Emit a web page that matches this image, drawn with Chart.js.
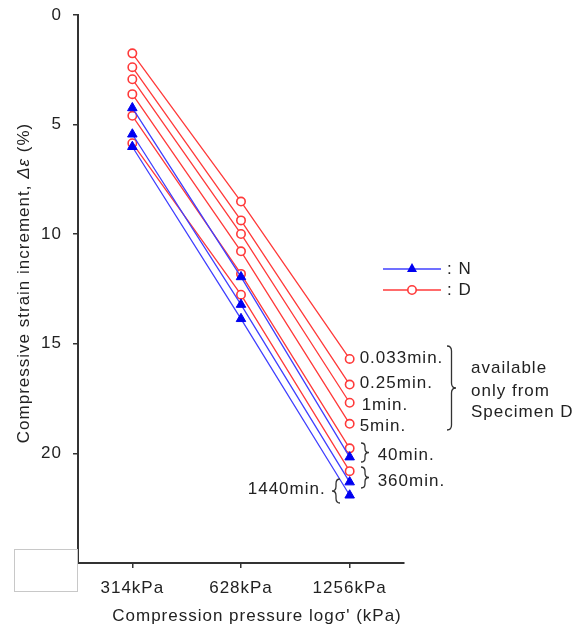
<!DOCTYPE html>
<html><head><meta charset="utf-8">
<script src="https://cdn.jsdelivr.net/npm/chart.js@4/dist/chart.umd.min.js"></script>
<style>html,body{margin:0;padding:0;background:#fff}#wrap{width:580px;height:627px;position:relative}</style>
</head><body><div id="wrap"><canvas id="c"></canvas></div>
<script>
// ---- data ----
const xLabels = ['314kPa', '628kPa', '1256kPa'];
const yTicks = [0, 5, 10, 15, 20];
// Specimen D (red, open circles)
const d0033 = [1.75, 8.51, 15.69];
const d025  = [2.38, 9.37, 16.86];
const d1    = [2.93, 9.99, 17.69];
const d5    = [3.61, 10.78, 18.65];
const d40   = [4.60, 11.81, 19.77];
const d360  = [5.85, 12.76, 20.81];
// Specimen N (blue, filled triangles)
const n40   = [4.24, 11.95, 20.17];
const n360  = [5.44, 13.21, 21.31];
const n1440 = [6.01, 13.86, 21.91];

const RED = '#ff3a3a', BLUE = '#4040ff', BLUE_PT = '#0000f0';
const FONT = "'Liberation Sans', Arial, sans-serif";

function nSet(label, data) {
  return { label, data, borderColor: BLUE, borderWidth: 1.3, pointStyle: 'triangle',
    pointRadius: 5.5, pointBackgroundColor: BLUE_PT, pointBorderColor: BLUE_PT, pointBorderWidth: 1, tension: 0 };
}
function dSet(label, data) {
  return { label, data, borderColor: RED, borderWidth: 1.3, pointStyle: 'circle',
    pointRadius: 4.2, pointBackgroundColor: '#fff', pointBorderColor: RED, pointBorderWidth: 1.6, tension: 0 };
}

function brace(ctx, x, y0, y1, w, dir) {
  // dir = 1 : "}"  (tip to the right), dir = -1 : "{" (tip to the left)
  const ym = (y0 + y1) / 2, h = y1 - y0, c = Math.min(5, h * 0.2);
  const xm = x + dir * w / 2, xt = x + dir * w;
  ctx.beginPath();
  ctx.moveTo(x, y0);
  ctx.quadraticCurveTo(xm, y0, xm, y0 + c);
  ctx.lineTo(xm, ym - c);
  ctx.quadraticCurveTo(xm, ym, xt, ym);
  ctx.quadraticCurveTo(xm, ym, xm, ym + c);
  ctx.lineTo(xm, y1 - c);
  ctx.quadraticCurveTo(xm, y1, x, y1);
  ctx.stroke();
}

const deco = {
  id: 'deco',
  beforeDraw(chart) { chart.ctx.letterSpacing = '1px'; },
  afterDraw(chart) {
    const ctx = chart.ctx, xs = chart.scales.x, ys = chart.scales.y;
    ctx.save();
    ctx.letterSpacing = '1px';
    ctx.fillStyle = '#222';
    ctx.textBaseline = 'middle';
    ctx.font = '17px ' + FONT;

    // gray box lower-left
    ctx.strokeStyle = '#c8c8c8'; ctx.lineWidth = 1;
    ctx.strokeRect(14.5, 549.5, 63, 42);

    // y title (rotated, italic Δε)
    ctx.save();
    ctx.translate(24, 283);
    ctx.rotate(-Math.PI / 2);
    const p1 = 'Compressive strain increment, ', p2 = 'Δε', p3 = ' (%)';
    const fN = '17px ' + FONT, fI = 'italic 17px ' + FONT;
    ctx.font = fN; const w1 = ctx.measureText(p1).width, w3 = ctx.measureText(p3).width;
    ctx.font = fI; const w2 = ctx.measureText(p2).width;
    let sx = -(w1 + w2 + w3) / 2;
    ctx.textAlign = 'left';
    ctx.font = fN; ctx.fillText(p1, sx, 0);
    ctx.font = fI; ctx.fillText(p2, sx + w1, 0);
    ctx.font = fN; ctx.fillText(p3, sx + w1 + w2, 0);
    ctx.restore();

    // x title
    ctx.textAlign = 'center';
    ctx.font = '17px ' + FONT;
    ctx.fillText("Compression pressure log\u03C3' (kPa)", 257, 616);

    // legend
    ctx.lineWidth = 1.5;
    ctx.strokeStyle = BLUE; ctx.beginPath(); ctx.moveTo(383, 269); ctx.lineTo(441, 269); ctx.stroke();
    ctx.fillStyle = BLUE_PT; ctx.beginPath();
    ctx.moveTo(412, 263); ctx.lineTo(417, 272); ctx.lineTo(407, 272); ctx.closePath(); ctx.fill();
    ctx.strokeStyle = RED; ctx.beginPath(); ctx.moveTo(383, 290); ctx.lineTo(441, 290); ctx.stroke();
    ctx.fillStyle = '#fff'; ctx.lineWidth = 1.6; ctx.beginPath(); ctx.arc(412, 290, 4.2, 0, Math.PI * 2); ctx.fill(); ctx.stroke();
    ctx.fillStyle = '#222'; ctx.textAlign = 'left';
    ctx.fillText(': N', 447, 269);
    ctx.fillText(': D', 447, 290);

    // labels at the 1256kPa points
    const px = xs.getPixelForValue(2);
    const lab = (t, v, dx, dy) => ctx.fillText(t, px + dx, ys.getPixelForValue(v) + dy);
    ctx.textAlign = 'left';
    lab('0.033min.', d0033[2], 10, -1);
    lab('0.25min.', d025[2], 10, -1);
    lab('1min.', d1[2], 12, 3);
    lab('5min.', d5[2], 10, 3);
    lab('40min.', d40[2], 28, 7);
    lab('360min.', d360[2], 28, 10);
    ctx.textAlign = 'right';
    lab('1440min.', n1440[2], -24, -6);

    ctx.textAlign = 'left';
    ctx.fillText('available', 471, 368);
    ctx.fillText('only from', 471, 391);
    ctx.fillText('Specimen D', 471, 412);

    // braces
    ctx.strokeStyle = '#333'; ctx.lineWidth = 1.3;
    brace(ctx, 447, 346, 430, 9, 1);
    brace(ctx, 361, 443, 462, 8, 1);
    brace(ctx, 361, 467, 488, 8, 1);
    brace(ctx, 340, 479, 503, 8, -1);
    ctx.restore();
  }
};

new Chart(document.getElementById('c'), {
  type: 'line',
  data: {
    labels: xLabels,
    datasets: [
      nSet('N 40min', n40), nSet('N 360min', n360), nSet('N 1440min', n1440),
      dSet('D 0.033min', d0033), dSet('D 0.25min', d025), dSet('D 1min', d1),
      dSet('D 5min', d5), dSet('D 40min', d40), dSet('D 360min', d360)
    ]
  },
  options: {
    responsive: true, maintainAspectRatio: false, animation: false, devicePixelRatio: 1,
    layout: { padding: { top: 15, right: 176, left: 0, bottom: 0 } },
    plugins: { legend: { display: false }, tooltip: { enabled: false } },
    font: { family: FONT },
    scales: {
      x: {
        type: 'category', offset: true,
        grid: { display: true, drawOnChartArea: false, drawTicks: true, tickLength: 5, color: '#333', lineWidth: 1.5 },
        border: { display: true, color: '#333', width: 2 },
        ticks: { font: { size: 17, family: FONT }, color: '#222', padding: 10, maxRotation: 0 },
        afterFit(s) { s.height = 64; s.paddingLeft = 0; s.paddingRight = 0; }
      },
      y: {
        type: 'linear', reverse: true, min: 0, max: 25,
        grid: { display: true, drawOnChartArea: false, drawTicks: true, tickLength: 5, color: '#333', lineWidth: 1.5 },
        border: { display: true, color: '#333', width: 2 },
        ticks: { font: { size: 17, family: FONT }, color: '#222', padding: 11, stepSize: 5 },
        afterBuildTicks(s) { s.ticks = yTicks.map(v => ({ value: v })); },
        afterFit(s) { s.width = 78; s.paddingTop = 0; s.paddingBottom = 0; }
      }
    }
  },
  plugins: [deco]
});
</script></body></html>
